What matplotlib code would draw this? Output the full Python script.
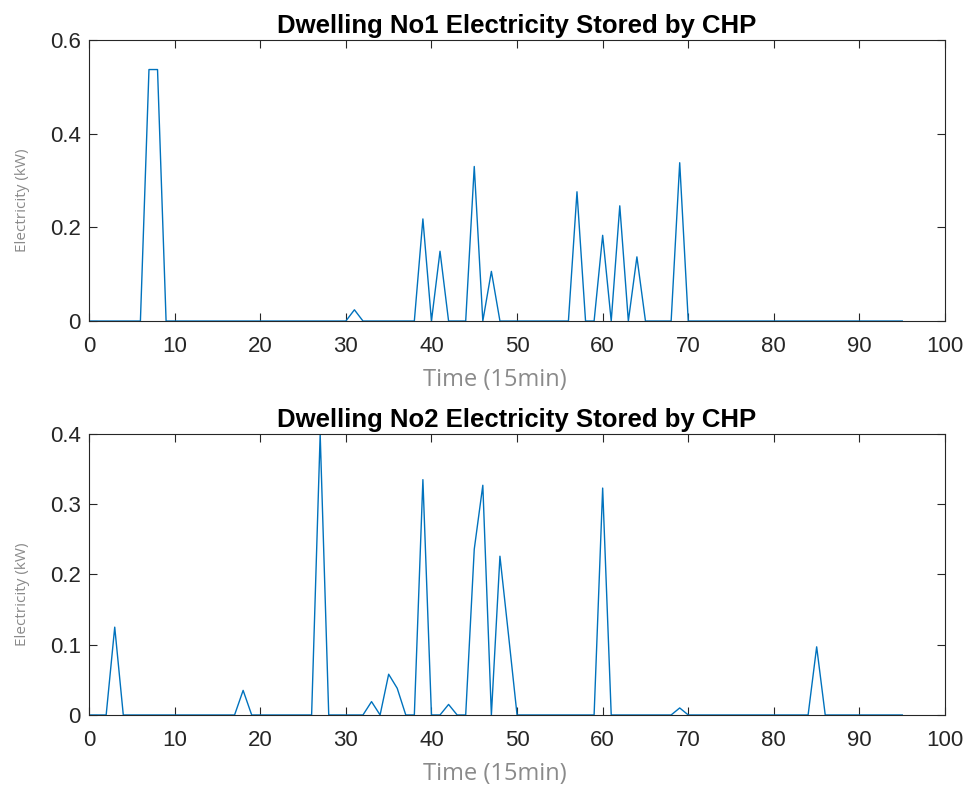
import matplotlib
matplotlib.use('Agg')
import matplotlib.pyplot as plt
import numpy as np

# time steps (15 min slots)
time = np.arange(0, 96)

# Dwelling 1: nonzero values {slot: kW}
dw1_peaks = {7: 0.537, 8: 0.537, 31: 0.024, 39: 0.218, 41: 0.149, 45: 0.330,
             47: 0.106, 57: 0.276, 60: 0.183, 62: 0.246, 64: 0.137, 69: 0.338}
# Dwelling 2
dw2_peaks = {3: 0.125, 18: 0.035, 27: 0.400, 33: 0.019, 35: 0.058, 36: 0.038,
             39: 0.335, 42: 0.015, 45: 0.236, 46: 0.327, 48: 0.226, 49: 0.114,
             60: 0.323, 69: 0.010, 85: 0.097}

dw1 = np.zeros(len(time))
for k, v in dw1_peaks.items():
    dw1[k] = v
dw2 = np.zeros(len(time))
for k, v in dw2_peaks.items():
    dw2[k] = v

titles = ['Dwelling No1 Electricity Stored by CHP',
          'Dwelling No2 Electricity Stored by CHP']
ylims = [0.6, 0.4]
yticks = [[0, 0.2, 0.4, 0.6], [0, 0.1, 0.2, 0.3, 0.4]]
yticklabels = [['0', '0.2', '0.4', '0.6'], ['0', '0.1', '0.2', '0.3', '0.4']]

fig = plt.figure(figsize=(9.7, 7.96), dpi=100)
positions = [[0.0918, 0.5967, 0.8825, 0.353], [0.0918, 0.1018, 0.8825, 0.353]]

for i, y in enumerate([dw1, dw2]):
    ax = fig.add_axes(positions[i])
    ax.plot(time, y, color='#0072BD', linewidth=1.0)
    ax.set_xlim(0, 100)
    ax.set_ylim(0, ylims[i])
    ax.set_xticks(np.arange(0, 101, 10))
    ax.set_xticklabels([str(v) for v in range(0, 101, 10)], family='Liberation Sans')
    ax.set_yticks(yticks[i])
    ax.set_yticklabels(yticklabels[i], family='Liberation Sans')
    ax.tick_params(direction='in', top=True, right=True, labelsize=16,
                   length=6, width=0.8, colors='#262626')
    ax.tick_params(axis='x', pad=11)
    ax.tick_params(axis='y', pad=6)
    for s in ax.spines.values():
        s.set_color('#262626')
        s.set_linewidth(0.8)
    ax.set_title(titles[i], fontsize=18.5, fontweight='bold', family='Liberation Sans', pad=5)
    ax.set_xlabel('Time (15min)', fontsize=17, color='#8a8a8a', family='Open Sans',
                  labelpad=8, x=0.474)
    ax.set_ylabel('Electricity (kW)', fontsize=11, color='#8a8a8a', family='Open Sans',
                  labelpad=14, y=0.43)

fig.savefig('out.png', dpi=100)
